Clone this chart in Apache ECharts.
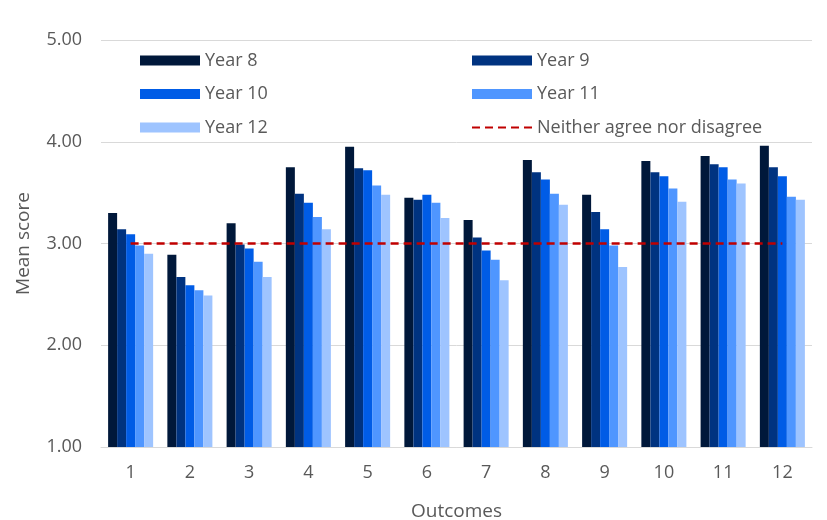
<!DOCTYPE html>
<html>
<head>
<meta charset="utf-8">
<script src="https://cdn.jsdelivr.net/npm/echarts@6/dist/echarts.min.js"></script>
<style>
  html, body { margin: 0; padding: 0; background: #fff; }
  #chart { width: 827px; height: 520px; }
</style>
</head>
<body>
<div id="chart"></div>
<script>
// Outcome numbers along the x axis
const outcomes = ['1', '2', '3', '4', '5', '6', '7', '8', '9', '10', '11', '12'];

// Mean score per outcome, one array per school year
const year8  = [3.30, 2.89, 3.20, 3.75, 3.95, 3.45, 3.23, 3.82, 3.48, 3.81, 3.86, 3.96];
const year9  = [3.14, 2.67, 2.99, 3.49, 3.74, 3.43, 3.06, 3.70, 3.31, 3.70, 3.78, 3.75];
const year10 = [3.09, 2.59, 2.95, 3.40, 3.72, 3.48, 2.93, 3.63, 3.14, 3.66, 3.75, 3.66];
const year11 = [2.98, 2.54, 2.82, 3.26, 3.57, 3.40, 2.84, 3.49, 2.98, 3.54, 3.63, 3.46];
const year12 = [2.90, 2.49, 2.67, 3.14, 3.48, 3.25, 2.64, 3.38, 2.77, 3.41, 3.59, 3.43];

// Neutral midpoint of the agreement scale
const neutral = outcomes.map(() => 3);

const yTicks = { min: 1, max: 5, step: 1 };

const seriesNames = ['Year 8', 'Year 9', 'Year 10', 'Year 11', 'Year 12'];
const seriesData = [year8, year9, year10, year11, year12];
const seriesColors = ['#00183A', '#003380', '#005CE6', '#4F96FF', '#9EC4FF'];
const lineName = 'Neither agree nor disagree';

const FONT = '"Open Sans", sans-serif';
const TEXT = '#595959';

const chart = echarts.init(document.getElementById('chart'), null, { renderer: 'canvas' });

const barSeries = seriesNames.map((name, i) => ({
  name: name,
  type: 'bar',
  data: seriesData[i],
  barGap: '0%',
  barCategoryGap: '24%',
  itemStyle: { color: seriesColors[i] },
  emphasis: { disabled: true }
}));

const legendText = { color: TEXT, fontFamily: FONT, fontSize: 18, lineHeight: 22 };
const legendBase = {
  orient: 'vertical',
  top: 49.5,
  padding: 0,
  itemWidth: 60, itemHeight: 10, itemGap: 11.5, itemTextGap: 7,
  textStyle: legendText,
  selectedMode: false
};

chart.setOption({
  animation: false,
  backgroundColor: '#ffffff',
  grid: {
    left: 101, right: 15, top: 40, bottom: 73,
    containLabel: false,
    outerBoundsMode: 'none'
  },
  legend: [
    Object.assign({}, legendBase, {
      left: 140,
      data: [
        { name: 'Year 8', icon: 'rect' },
        { name: 'Year 10', icon: 'rect' },
        { name: 'Year 12', icon: 'rect' }
      ]
    }),
    Object.assign({}, legendBase, {
      left: 471,
      data: [
        { name: 'Year 9', icon: 'rect' },
        { name: 'Year 11', icon: 'rect' },
        { name: lineName }
      ]
    })
  ],
  xAxis: {
    type: 'category',
    data: outcomes,
    name: 'Outcomes',
    nameLocation: 'middle',
    nameGap: 55,
    nameTextStyle: { color: TEXT, fontFamily: FONT, fontSize: 19 },
    axisLine: { lineStyle: { color: '#d9d9d9', width: 1 } },
    axisTick: { show: false },
    axisLabel: { color: TEXT, fontFamily: FONT, fontSize: 18, margin: 17 }
  },
  yAxis: {
    type: 'value',
    min: yTicks.min,
    max: yTicks.max,
    interval: yTicks.step,
    name: 'Mean score',
    nameLocation: 'middle',
    nameGap: 68,
    nameTextStyle: { color: TEXT, fontFamily: FONT, fontSize: 19 },
    axisLine: { show: false },
    axisTick: { show: false },
    splitLine: { lineStyle: { color: '#d9d9d9', width: 1 } },
    axisLabel: {
      color: TEXT, fontFamily: FONT, fontSize: 18, margin: 19,
      formatter: v => v.toFixed(2)
    }
  },
  series: barSeries.concat([{
    name: lineName,
    type: 'line',
    data: neutral,
    symbol: 'none',
    z: 5,
    lineStyle: { color: '#C00000', width: 2.5, type: [8, 5] },
    // transparent item colour keeps the legend swatch to a plain dashed line
    itemStyle: { color: 'rgba(0,0,0,0)' },
    emphasis: { disabled: true }
  }])
});
</script>
</body>
</html>
